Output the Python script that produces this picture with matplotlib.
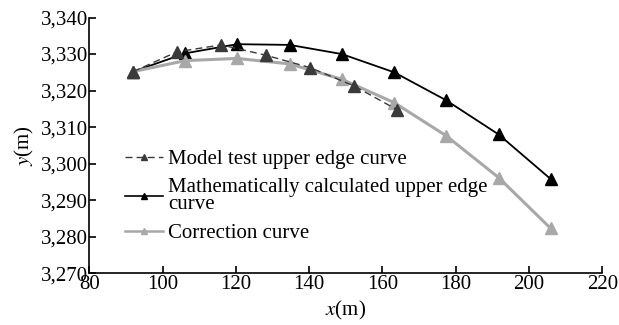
import matplotlib
matplotlib.use('Agg')
import matplotlib.pyplot as plt
from matplotlib.ticker import FuncFormatter

plt.rcParams['font.family'] = ['Liberation Serif', 'DejaVu Serif']
plt.rcParams['mathtext.fontset'] = 'stix'

# model test upper edge curve
model_x = [92.0, 103.9, 116.0, 128.1, 140.2, 152.2, 164.1]
model_y = [3325.2, 3330.6, 3332.5, 3329.7, 3326.3, 3321.3, 3314.7]

# mathematically calculated upper edge curve
calc_x = [92.0, 106.2, 120.3, 134.7, 148.9, 163.2, 177.3, 191.7, 205.9]
calc_y = [3325.2, 3330.2, 3332.7, 3332.5, 3330.0, 3325.0, 3317.4, 3308.0, 3295.8]

# correction curve
corr_x = [92.0, 106.2, 120.3, 134.7, 148.9, 163.2, 177.3, 191.7, 205.9]
corr_y = [3325.2, 3328.2, 3328.8, 3327.3, 3323.1, 3316.7, 3307.7, 3296.2, 3282.3]

x_ticks = [80, 100, 120, 140, 160, 180, 200, 220]
y_ticks = [3270, 3280, 3290, 3300, 3310, 3320, 3330, 3340]


def make_plot():
    fig = plt.figure(figsize=(6.19, 3.25), dpi=100)
    ax = fig.add_axes([89.3 / 619, 1 - 273.3 / 325, 513 / 619, 255.8 / 325])

    ax.plot(model_x, model_y, color='#3a3a3a', linestyle=(0, (5, 3)), linewidth=1.0,
            marker='^', markersize=8, markerfacecolor='#3a3a3a', markeredgecolor='#3a3a3a',
            label='Model test upper edge curve', zorder=3)
    ax.plot(calc_x, calc_y, color='black', linewidth=1.3,
            marker='^', markersize=8, label='Mathematically calculated upper edge\ncurve',
            zorder=2)
    ax.plot(corr_x, corr_y, color='#a8a8a8', linewidth=2.2,
            marker='^', markersize=8, label='Correction curve', zorder=2)

    ax.set_xlim(80, 220)
    ax.set_ylim(3270, 3340)
    ax.set_xticks(x_ticks)
    ax.set_yticks(y_ticks)
    ax.yaxis.set_major_formatter(FuncFormatter(lambda v, p: '{:,.0f}'.format(v)))

    for side in ['top', 'right']:
        ax.spines[side].set_visible(False)
    for side in ['left', 'bottom']:
        ax.spines[side].set_linewidth(1.2)
    ax.tick_params(direction='in', length=5, width=1.2, labelsize=15, pad=1)

    ax.set_xlabel('$x$(m)', fontsize=15, labelpad=4)
    ax.set_ylabel('$y$(m)', fontsize=15, labelpad=3)

    leg = ax.legend(loc='upper left', bbox_to_anchor=(0.07, 0.485), frameon=False, fontsize=15,
                    handlelength=1.8, handletextpad=0.25, labelspacing=0.45,
                    borderpad=0, borderaxespad=0, markerscale=0.6)
    for line, lw in zip(leg.get_lines(), [1.0, 1.2, 1.8]):
        line.set_linewidth(lw)
    for text in leg.get_texts():
        text.set_linespacing(0.85)

    fig.savefig('out.png', dpi=100)


if __name__ == '__main__':
    make_plot()
